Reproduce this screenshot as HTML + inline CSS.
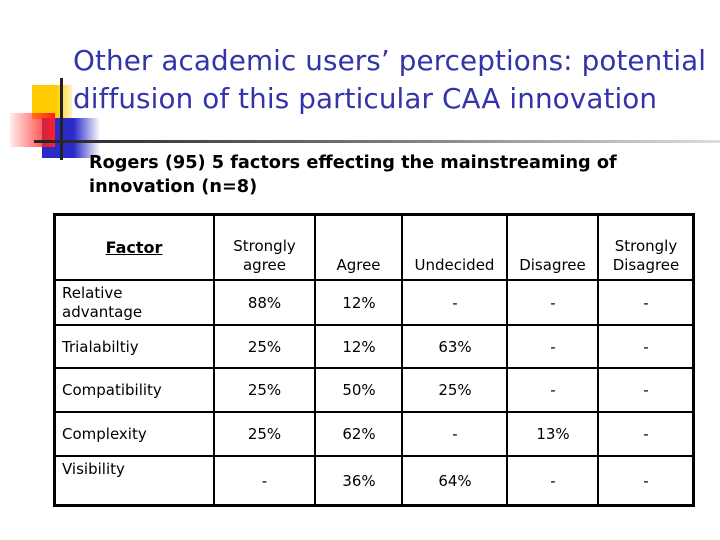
<!DOCTYPE html>
<html><head><meta charset="utf-8"><style>
body{margin:0;width:720px;height:540px;background:#fff;position:relative;overflow:hidden;font-family:"DejaVu Sans","Liberation Sans",sans-serif}
.a{position:absolute}
.c{position:absolute;display:flex;align-items:center;justify-content:center;text-align:center;font-size:15px;color:#000;line-height:19px}
.l{justify-content:flex-start;text-align:left;padding-left:7px}
</style></head><body>
<div class="a" style="left:32px;top:85px;width:40px;height:34px;background:linear-gradient(90deg,#ffcc00 60%,#fff3c0)"></div>
<div class="a" style="left:42px;top:118px;width:58px;height:40px;background:linear-gradient(90deg,#2b2bc8 55%,rgba(43,43,200,0))"></div>
<div class="a" style="left:10px;top:113px;width:45px;height:34px;background:linear-gradient(90deg,rgba(255,80,80,0.1),#ff2020)"></div>
<div class="a" style="left:60px;top:78px;width:3px;height:82px;background:#222"></div>
<div class="a" style="left:34px;top:140px;width:686px;height:3px;background:linear-gradient(90deg,#222,#777 50%,#ddd)"></div>
<div class="a" style="left:73px;top:42px;font-size:27.8px;letter-spacing:0.1px;line-height:38px;color:#3333aa;font-family:'DejaVu Sans',sans-serif;white-space:nowrap">Other academic users’ perceptions: potential<br>diffusion of this particular CAA innovation</div>
<div class="a" style="left:89px;top:151px;font-size:17.7px;line-height:24px;font-weight:bold;color:#000;white-space:nowrap">Rogers (95) 5 factors effecting the mainstreaming of<br>innovation (n=8)</div>
<svg class="a" style="left:0;top:0" width="720" height="540">
<rect x="54.5" y="214.5" width="639" height="291" fill="none" stroke="#000" stroke-width="3"/>
<g stroke="#000" stroke-width="2">
<line x1="214" y1="214" x2="214" y2="506"/><line x1="315" y1="214" x2="315" y2="506"/><line x1="402" y1="214" x2="402" y2="506"/><line x1="507" y1="214" x2="507" y2="506"/><line x1="598" y1="214" x2="598" y2="506"/>
<line x1="54" y1="280" x2="694" y2="280"/><line x1="54" y1="325" x2="694" y2="325"/><line x1="54" y1="368" x2="694" y2="368"/><line x1="54" y1="412" x2="694" y2="412"/><line x1="54" y1="456" x2="694" y2="456"/>
</g></svg>
<div class="c" style="left:55px;top:215px;width:158px;height:64px;font-weight:bold;text-decoration:underline;font-size:16px">Factor</div>
<div class="c" style="left:215px;top:236px;width:99px;height:40px">Strongly<br>agree</div>
<div class="c" style="left:316px;top:255px;width:85px;height:20px">Agree</div>
<div class="c" style="left:403px;top:255px;width:103px;height:20px">Undecided</div>
<div class="c" style="left:508px;top:255px;width:89px;height:20px">Disagree</div>
<div class="c" style="left:599px;top:236px;width:94px;height:40px">Strongly<br>Disagree</div>
<div id="rows"></div>
<script>
var factors=["Relative<br>advantage","Trialabiltiy","Compatibility","Complexity","Visibility"];
var vals=[["88%","12%","-","-","-"],["25%","12%","63%","-","-"],["25%","50%","25%","-","-"],["25%","62%","-","13%","-"],["-","36%","64%","-","-"]];
var rowTop=[281,326,369,413,457],rowH=[44,42,43,43,49];
var colL=[215,316,403,508,599],colW=[99,86,104,90,94];
var host=document.getElementById('rows');
for(var r=0;r<factors.length;r++){
 var f=document.createElement('div');f.className='c l';
 
 
 f.style.cssText='left:55px;top:'+rowTop[r]+'px;width:151px;height:'+rowH[r]+'px;'+(r==4?'align-items:flex-start;padding-top:3px;height:'+(rowH[r]-3)+'px':'');
 f.innerHTML=factors[r];host.appendChild(f);
 for(var c=0;c<5;c++){
  var d=document.createElement('div');d.className='c';
  
  
  d.style.cssText='left:'+colL[c]+'px;top:'+rowTop[r]+'px;width:'+colW[c]+'px;height:'+rowH[r]+'px';
  d.textContent=vals[r][c];host.appendChild(d);
 }
}
</script>
</body></html>
